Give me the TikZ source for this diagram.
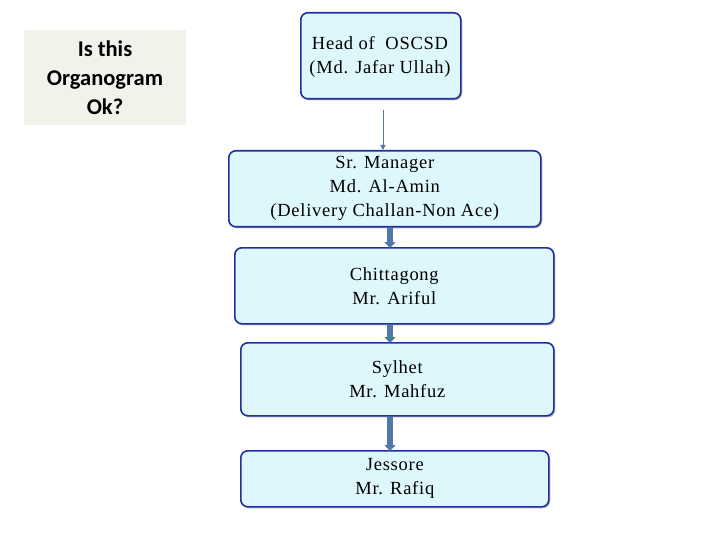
\documentclass[tikz,border=0pt]{standalone}
\usepackage{fontspec}
\setmainfont{Liberation Serif}[LetterSpace=4]
\newfontfamily\calib{Carlito}
\usetikzlibrary{arrows.meta,shadows}
\definecolor{boxfill}{HTML}{DDF7FC}
\definecolor{boxline}{HTML}{2030A0}
\definecolor{arr}{HTML}{4F79A8}
\definecolor{note}{HTML}{F2F2EA}
\tikzset{
  orgbox/.style={draw=boxline, line width=1.6pt, fill=boxfill, rounded corners=7pt,
    drop shadow={shadow xshift=1.5pt,shadow yshift=-1.5pt,fill=black!45,opacity=0.6},
    align=center, font=\fontsize{18.5}{24}\selectfont, inner sep=0pt},
  thick arrow/.style={draw=arr, line width=6pt, -{Triangle[width=11pt,length=6pt]}, shorten >=-1pt}
}
\begin{document}
\begin{tikzpicture}[x=1pt,y=-1pt]
\useasboundingbox (0,0) rectangle (720,540);
\node[fill=note, minimum width=162pt, minimum height=95pt, align=center,
  font=\calib\bfseries\fontsize{22.5}{29}\selectfont] (note) at (105,77.5) {Is this\\Organogram\\Ok?};
\node[orgbox, minimum width=160pt, minimum height=86pt, anchor=north west] (head) at (300,12) {};
\node[align=center, font=\fontsize{18.5}{24}\selectfont] (headt) at (380,57) {Head of\ \ OSCSD\\(Md. Jafar Ullah)};
\node[orgbox, minimum width=312pt, minimum height=76pt, anchor=north west] (mgr) at (228,150) {Sr. Manager\\Md. Al-Amin\\(Delivery Challan-Non Ace)};
\node[orgbox, minimum width=319pt, minimum height=76pt, anchor=north west] (ctg) at (234,247) {Chittagong\\Mr. Ariful};
\node[orgbox, minimum width=313pt, minimum height=73pt, anchor=north west] (syl) at (240,342) {Sylhet\\Mr. Mahfuz};
\node[orgbox, minimum width=308pt, minimum height=56pt, anchor=north west] (jes) at (240,450) {Jessore\\Mr. Rafiq};
\draw[arr, line width=1pt, -{Triangle[width=5pt,length=5pt]}] (head.south -| 383,0) ++(0,10) -- (mgr.north -| 383,0);
\draw[thick arrow] (mgr.south -| 390,0) -- (ctg.north -| 390,0);
\draw[thick arrow] (ctg.south -| 390,0) -- (syl.north -| 390,0);
\draw[thick arrow] (syl.south -| 390,0) -- (jes.north -| 390,0);
\end{tikzpicture}
\end{document}
